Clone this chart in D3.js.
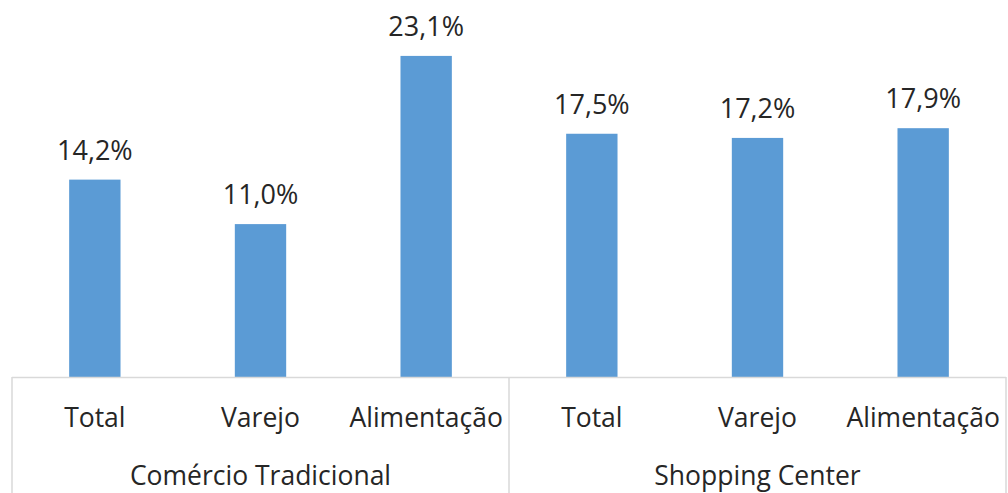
<!DOCTYPE html>
<html>
<head>
<meta charset="utf-8">
<script src="https://cdn.jsdelivr.net/npm/d3@7"></script>
<style>
  body { margin: 0; background: #fff; }
  text { font-family: "Open Sans", sans-serif; fill: #262626; }
</style>
</head>
<body>
<svg id="chart" width="1008" height="493"></svg>
<script>
// DATA
// --------------------------------------
var groups = ['Comércio Tradicional', 'Shopping Center'];
var categories = ['Total', 'Varejo', 'Alimentação'];
var values = [14.2, 11.0, 23.1, 17.5, 17.2, 17.9];
var valueLabels = ['14,2%', '11,0%', '23,1%', '17,5%', '17,2%', '17,9%'];

// build rows
var rows = values.map(function(v, i){
    return {
        key: i,
        group: groups[Math.floor(i / categories.length)],
        cat: categories[i % categories.length],
        value: v,
        label: valueLabels[i]
    };
});

// CONFIG
// --------------------------------------
var left = 12, right = 1006, base = 377, bottom = 493;

var svg = d3.select('#chart');

var x = d3.scaleBand()
    .domain(rows.map(function(d){ return d.key; }))
    .range([left, right])
    .paddingInner(0.69)
    .paddingOuter(0.345);

var y = d3.scaleLinear()
    .domain([0, 26])
    .range([base, base - 26 * 13.9]);

// bars
svg.append('g').selectAll('rect')
    .data(rows)
    .enter().append('rect')
    .attr('x', function(d){ return x(d.key); })
    .attr('y', function(d){ return y(d.value); })
    .attr('width', x.bandwidth())
    .attr('height', function(d){ return y(0) - y(d.value); })
    .attr('fill', '#5b9bd5');

// value labels
svg.append('g').selectAll('text')
    .data(rows)
    .enter().append('text')
    .attr('x', function(d){ return x(d.key) + x.bandwidth() / 2; })
    .attr('y', function(d){ return y(d.value) - 20; })
    .attr('text-anchor', 'middle')
    .style('font-size', '27px')
    .text(function(d){ return d.label; });

// axis line + group separators
var grid = '#d9d9d9';
svg.append('line')
    .attr('x1', left).attr('x2', right)
    .attr('y1', base + 0.5).attr('y2', base + 0.5)
    .attr('stroke', grid).attr('stroke-width', 1.5);

var groupScale = d3.scaleBand().domain(groups).range([left, right]);
var seps = [left, groupScale(groups[1]), right];
svg.append('g').selectAll('line')
    .data(seps)
    .enter().append('line')
    .attr('x1', function(d){ return d; }).attr('x2', function(d){ return d; })
    .attr('y1', base).attr('y2', bottom)
    .attr('stroke', grid).attr('stroke-width', 1.5);

// category labels
svg.append('g').selectAll('text')
    .data(rows)
    .enter().append('text')
    .attr('x', function(d){ return x(d.key) + x.bandwidth() / 2; })
    .attr('y', 427)
    .attr('text-anchor', 'middle')
    .style('font-size', '26.5px')
    .text(function(d){ return d.cat; });

// group labels
svg.append('g').selectAll('text')
    .data(groups)
    .enter().append('text')
    .attr('x', function(d){ return groupScale(d) + groupScale.bandwidth() / 2; })
    .attr('y', 485)
    .attr('text-anchor', 'middle')
    .style('font-size', '26.5px')
    .text(function(d){ return d; });
</script>
</body>
</html>
